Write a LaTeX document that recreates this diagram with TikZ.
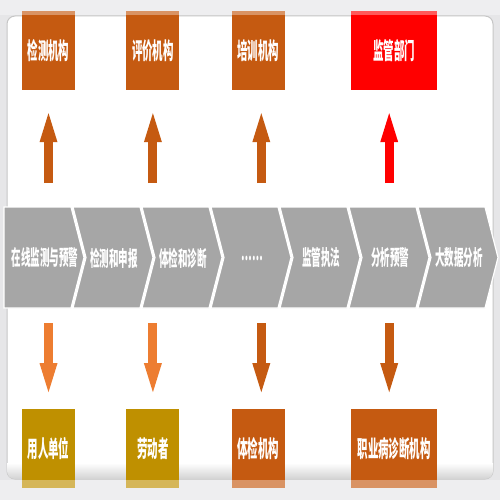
\documentclass[tikz,border=0pt]{standalone}
\usepackage{fontspec}
\usepackage{graphicx}
\newfontfamily\cjk{Noto Sans CJK SC}
\usetikzlibrary{positioning, arrows.meta}
\definecolor{rust}{HTML}{C55A11}
\definecolor{tang}{HTML}{ED7D31}
\definecolor{ochre}{HTML}{BF9000}
\definecolor{bandgray}{HTML}{A6A6A6}
\definecolor{pagegray}{HTML}{E6E6E8}
\newcommand{\tallt}[1]{\scalebox{0.95}[2.1]{#1}}
\tikzset{orgbox/.style={minimum width=53pt, minimum height=79pt, inner sep=0pt, text=white, font=\cjk\bfseries\fontsize{11}{12}\selectfont, fill=#1}}
\tikzset{steptxt/.style={text=white, inner sep=0pt, font=\cjk\bfseries\fontsize{10}{11}\selectfont}}
\tikzset{chevron/.style={fill=bandgray, draw=white, line width=1.2pt, line join=miter}}
\tikzset{blockarr/.style={draw=#1, line width=9pt, -{Triangle[width=18pt, length=29pt, line width=0pt, fill=#1]}}}
\tikzset{uparr/.style={blockarr=#1, shorten <=24pt, shorten >=23pt}}
\tikzset{dnarr/.style={blockarr=#1, shorten <=15pt, shorten >=17pt}}

\begin{document}
\begin{tikzpicture}[x=1pt, y=-1pt]
	\useasboundingbox (0,0) rectangle (500,500);
	\fill[pagegray] (0,0) rectangle (500,500);
	% panel
	\draw[fill=white, draw=gray!45, line width=1pt, rounded corners=8pt] (7,16) rectangle (493,479);
	\begin{scope}
		\clip[rounded corners=8pt] (7,16) rectangle (493,479);
		\shade[top color=white, bottom color=gray!35] (7,463) rectangle (493,479);
	\end{scope}
	%
	\node[orgbox=rust] (t1) at (48.5,50.5) {\tallt{检测机构}};
	\node[orgbox=rust, right=51pt of t1] (t2) {\tallt{评价机构}};
	\node[orgbox=rust, right=52pt of t2] (t3) {\tallt{培训机构}};
	\node[orgbox=red, minimum width=86pt, right=66pt of t3] (t4) {\tallt{监管部门}};
	%
	\node[orgbox=ochre, below=319pt of t1] (b1) {\tallt{用人单位}};
	\node[orgbox=ochre, below=319pt of t2] (b2) {\tallt{劳动者}};
	\node[orgbox=rust, below=319pt of t3] (b3) {\tallt{体检机构}};
	\node[orgbox=rust, minimum width=86pt, below=319pt of t4] (b4) {\tallt{职业病诊断机构}};
	%
	\fill[white, opacity=.35] (0,0) rectangle (500,15);
	\fill[white, opacity=.35] (0,480) rectangle (500,500);
	% process band
	\foreach \t [count=\i from 0] in {在线监测与预警,检测和申报,体检和诊断,……,监管执法,分析预警,大数据分析}{
		\pgfmathsetmacro\lx{4+69*\i}
		\pgfmathsetmacro\notch{\i==0 ? 0 : 13}
		\draw[chevron] (\lx,207) -- ++(67,0) -- ++(13,50.5) -- ++(-13,50.5)
			-- ++(-67,0) -- ++(\notch,-50.5) -- cycle;
		\node[steptxt] (c\i) at (\lx+41,258) {\tallt{\t}};
	}
	\coordinate (bandtop) at (0,207);
	\coordinate (bandbot) at (0,308);
	%
	\draw[uparr=rust] (t1.south |- bandtop) -- (t1.south);
	\draw[uparr=rust] (t2.south |- bandtop) -- (t2.south);
	\draw[uparr=rust] ([xshift=3pt]t3.south |- bandtop) -- ([xshift=3pt]t3.south);
	\draw[uparr=red] ([xshift=-5pt]t4.south |- bandtop) -- ([xshift=-5pt]t4.south);
	%
	\draw[dnarr=tang] (b1.north |- bandbot) -- (b1.north);
	\draw[dnarr=tang] (b2.north |- bandbot) -- (b2.north);
	\draw[dnarr=rust] ([xshift=3pt]b3.north |- bandbot) -- ([xshift=3pt]b3.north);
	\draw[dnarr=rust] ([xshift=-5pt]b4.north |- bandbot) -- ([xshift=-5pt]b4.north);
\end{tikzpicture}
\end{document}
